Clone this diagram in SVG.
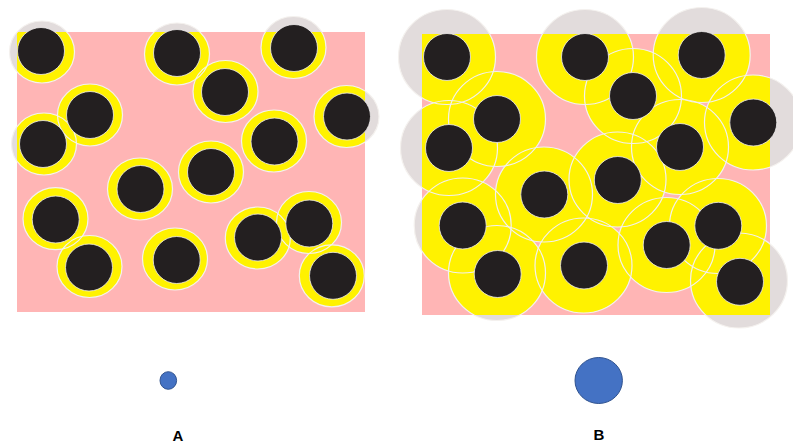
<svg xmlns="http://www.w3.org/2000/svg" xmlns:xlink="http://www.w3.org/1999/xlink" width="793" height="444" viewBox="0 0 793 444">
<style>
.pink{fill:#ffb5b5}
.gray{fill:#e2dcdc}
.yel{fill:#fff200}
.edge{fill:none;stroke:#f4f1ee;stroke-width:1.2}
.blk{fill:#231f20;stroke:#f0eeee;stroke-width:0.8}
.blue{fill:#4472c4;stroke:#2f528f;stroke-width:1}
.lbl{font-family:"Liberation Sans",Arial,sans-serif;font-weight:bold;font-size:15px;fill:#000;text-anchor:middle}
</style>
<defs>
<clipPath id="clipA"><rect x="17" y="32" width="348" height="280"/></clipPath>
<clipPath id="clipB"><rect x="422" y="34" width="348" height="281"/></clipPath>
<g id="ringsA">
<ellipse cx="42" cy="52" rx="32.5" ry="31"/>
<ellipse cx="177" cy="54" rx="32.5" ry="31"/>
<ellipse cx="293.5" cy="47.5" rx="32.5" ry="31"/>
<ellipse cx="225.5" cy="91.5" rx="32.5" ry="31"/>
<ellipse cx="90" cy="115" rx="32.5" ry="31"/>
<ellipse cx="346.5" cy="116.5" rx="32.5" ry="31"/>
<ellipse cx="44" cy="144" rx="32.5" ry="31"/>
<ellipse cx="274" cy="141" rx="32.5" ry="31"/>
<ellipse cx="211" cy="172" rx="32.5" ry="31"/>
<ellipse cx="140" cy="189" rx="32.5" ry="31"/>
<ellipse cx="55.5" cy="218.7" rx="32.5" ry="31"/>
<ellipse cx="89.5" cy="266.5" rx="32.5" ry="31"/>
<ellipse cx="175" cy="259" rx="32.5" ry="31"/>
<ellipse cx="257.8" cy="238" rx="32.5" ry="31"/>
<ellipse cx="309" cy="222.5" rx="32.5" ry="31"/>
<ellipse cx="331.8" cy="275.8" rx="32.5" ry="31"/>
</g>
<g id="ringsB">
<ellipse cx="447" cy="57" rx="48.5" ry="47.5"/>
<ellipse cx="585" cy="57" rx="48.5" ry="47.5"/>
<ellipse cx="701.7" cy="55" rx="48.5" ry="47.5"/>
<ellipse cx="633" cy="96" rx="48.5" ry="47.5"/>
<ellipse cx="497" cy="119" rx="48.5" ry="47.5"/>
<ellipse cx="753" cy="122.5" rx="48.5" ry="47.5"/>
<ellipse cx="449" cy="148" rx="48.5" ry="47.5"/>
<ellipse cx="680" cy="147" rx="48.5" ry="47.5"/>
<ellipse cx="617.5" cy="179.5" rx="48.5" ry="47.5"/>
<ellipse cx="544" cy="194.5" rx="48.5" ry="47.5"/>
<ellipse cx="462.7" cy="225.5" rx="48.5" ry="47.5"/>
<ellipse cx="718" cy="226" rx="48.5" ry="47.5"/>
<ellipse cx="666.5" cy="245" rx="48.5" ry="47.5"/>
<ellipse cx="583.5" cy="265.5" rx="48.5" ry="47.5"/>
<ellipse cx="497" cy="273" rx="48.5" ry="47.5"/>
<ellipse cx="739" cy="280.5" rx="48.5" ry="47.5"/>
</g>
</defs>

<g id="panelA">
<rect class="pink" x="17" y="32" width="348" height="280"/>
<use xlink:href="#ringsA" class="gray"/>
<g clip-path="url(#clipA)"><use xlink:href="#ringsA" class="yel"/></g>
<use xlink:href="#ringsA" class="edge"/>
<g class="blk">
<circle cx="41" cy="51" r="23.5"/>
<circle cx="177" cy="53" r="23.5"/>
<circle cx="294" cy="48" r="23.5"/>
<circle cx="225" cy="92" r="23.5"/>
<circle cx="90" cy="115" r="23.5"/>
<circle cx="347" cy="116.5" r="23.5"/>
<circle cx="43" cy="144" r="23.5"/>
<circle cx="274.5" cy="141.5" r="23.5"/>
<circle cx="211" cy="172" r="23.5"/>
<circle cx="140.5" cy="189" r="23.5"/>
<circle cx="55.7" cy="219.5" r="23.5"/>
<circle cx="89" cy="267.5" r="23.5"/>
<circle cx="176.7" cy="260" r="23.5"/>
<circle cx="258" cy="237.5" r="23.5"/>
<circle cx="309.3" cy="223.5" r="23.5"/>
<circle cx="333" cy="275.8" r="23.5"/>
</g>
</g>

<g id="panelB">
<rect class="pink" x="422" y="34" width="348" height="281"/>
<use xlink:href="#ringsB" class="gray"/>
<g clip-path="url(#clipB)"><use xlink:href="#ringsB" class="yel"/></g>
<use xlink:href="#ringsB" class="edge"/>
<g class="blk">
<circle cx="447" cy="57" r="23.5"/>
<circle cx="585" cy="57" r="23.5"/>
<circle cx="701.7" cy="55" r="23.5"/>
<circle cx="633" cy="96" r="23.5"/>
<circle cx="497" cy="119" r="23.5"/>
<circle cx="753.3" cy="122.5" r="23.5"/>
<circle cx="449" cy="148" r="23.5"/>
<circle cx="680" cy="147" r="23.5"/>
<circle cx="617.8" cy="180" r="23.5"/>
<circle cx="544.3" cy="194.5" r="23.5"/>
<circle cx="462.7" cy="225.5" r="23.5"/>
<circle cx="718.3" cy="225.8" r="23.5"/>
<circle cx="666.7" cy="245" r="23.5"/>
<circle cx="584" cy="265.5" r="23.5"/>
<circle cx="497.7" cy="274" r="23.5"/>
<circle cx="740" cy="281.8" r="23.5"/>
</g>
</g>

<g id="legendA">
<ellipse class="blue" cx="168.3" cy="380.5" rx="8.3" ry="8.8"/>
<text class="lbl" x="178" y="441">A</text>
</g>
<g id="legendB">
<ellipse class="blue" cx="598.7" cy="380.5" rx="23.7" ry="23"/>
<text class="lbl" x="599" y="440">B</text>
</g>
</svg>
